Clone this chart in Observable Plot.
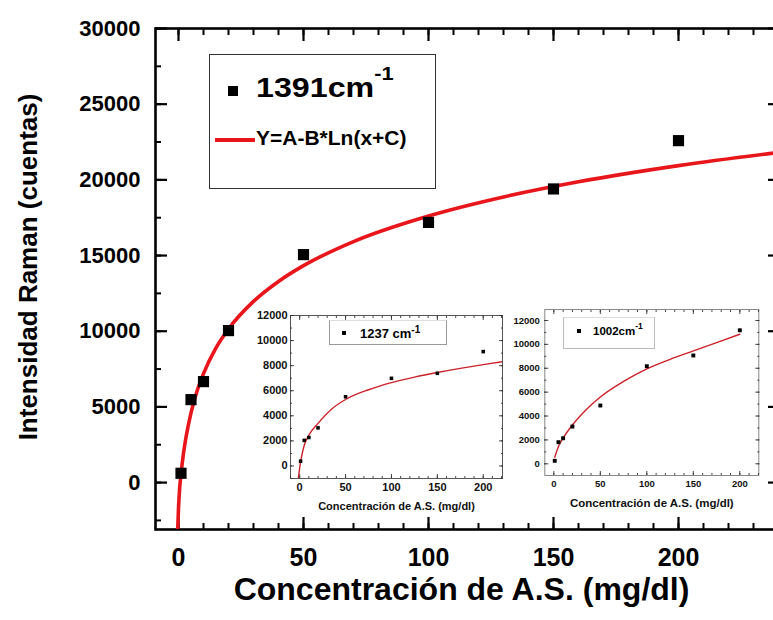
<!DOCTYPE html>
<html><head><meta charset="utf-8">
<script src="https://cdn.jsdelivr.net/npm/d3@7"></script>
<script src="https://cdn.jsdelivr.net/npm/@observablehq/plot@0.6"></script>
<style>
html,body{margin:0;padding:0;background:#fff;overflow:hidden;}
#wrap{position:relative;width:773px;height:620px;overflow:hidden;background:#fff;
  font-family:"Liberation Sans",Arial,Helvetica,sans-serif;font-weight:bold;color:#000;}
#wrap svg{position:absolute;}
.abs{position:absolute;white-space:nowrap;line-height:1;}
.sup{position:relative;}
</style></head>
<body><div id="wrap"></div>
<script>
// ---------- main chart data (1391 cm-1) ----------
const mainX = [1, 5, 10, 20, 50, 100, 150, 200];
const mainY = [615, 5480, 6670, 10040, 15060, 17190, 19400, 22590];
// fitted curve Y=A-B*Ln(x+C)
const mainFitX = [-0.3, 0, 0.5, 1, 2, 3, 5, 7.5, 10, 15, 20, 30, 40, 50, 70, 100, 130, 160, 200, 241];
const mainFitY = [-3000, -1700, -300, 560, 1930, 2990, 4610, 6080, 7200, 8900, 10150, 11970, 13290, 14330, 15920, 17610, 18870, 19870, 20940, 21830];
const mainXTicks = [0, 50, 100, 150, 200];
const mainYTicks = [0, 5000, 10000, 15000, 20000, 25000, 30000];

// ---------- inset 1 data (1237 cm-1) ----------
const in1X = [1, 5, 10, 20, 50, 100, 150, 200];
const in1Y = [380, 2040, 2270, 3040, 5520, 6990, 7390, 9120];
const in1FitX = [-1.5, -0.5, 0, 1, 2, 5, 10, 20, 35, 50, 75, 100, 125, 150, 175, 200, 221];
const in1FitY = [-1000, -450, -150, 330, 730, 1650, 2450, 3400, 4550, 5300, 6080, 6650, 7080, 7450, 7780, 8080, 8320];

// ---------- inset 2 data (1002 cm-1) ----------
const in2X = [1, 5, 10, 20, 50, 100, 150, 200];
const in2Y = [250, 1810, 2140, 3120, 4880, 8170, 9070, 11180];
const in2FitX = [1, 5, 10, 20, 35, 50, 75, 100, 125, 150, 175, 200];
const in2FitY = [550, 1450, 2150, 3250, 4550, 5600, 6900, 7950, 8750, 9450, 10150, 10850];

const insetXTicks = [0, 50, 100, 150, 200];
const insetYTicks = [0, 2000, 4000, 6000, 8000, 10000, 12000];

const xTitle = "Concentración de A.S. (mg/dl)";
const yTitle = "Intensidad Raman (cuentas)";

const FONT = '"Liberation Sans", Arial, Helvetica, sans-serif';
const wrap = document.getElementById("wrap");
const zip = (xs, ys) => xs.map((x, i) => ({x, y: ys[i]}));
const inDom = (arr, [a, b]) => arr.filter(v => v >= a && v <= b);

// ---------- main plot ----------
const mxDom = [-9.2, 240.4], myDom = [-3100, 30000];
const mxMinor = inDom(d3.range(-10, 250, 10), mxDom);
const myMinor = inDom(d3.range(-2500, 30001, 2500), myDom);
const mxMajor = inDom(d3.range(0, 251, 50), mxDom);

const tk = {stroke: "#000", fill: "none", label: null};
const main = Plot.plot({
  width: 773, height: 620,
  marginLeft: 155, marginRight: -6, marginTop: 28, marginBottom: 91,
  x: {domain: mxDom, label: null},
  y: {domain: myDom, label: null},
  style: {fontFamily: FONT, background: "#fff", color: "#000"},
  marks: [
    Plot.axisX(mxMinor, {...tk, anchor: "bottom", tickSize: -6, strokeWidth: 2}),
    Plot.axisX(mxMinor, {...tk, anchor: "top", tickSize: -6, strokeWidth: 2}),
    Plot.axisX(mxMajor, {...tk, anchor: "bottom", tickSize: -12, strokeWidth: 2.2}),
    Plot.axisX(mxMajor, {...tk, anchor: "top", tickSize: -12, strokeWidth: 2.2}),
    Plot.axisY(myMinor, {...tk, anchor: "left", tickSize: -6, strokeWidth: 2}),
    Plot.axisY(myMinor, {...tk, anchor: "right", tickSize: -6, strokeWidth: 2}),
    Plot.axisY(mainYTicks, {...tk, anchor: "left", tickSize: -12, strokeWidth: 2.2}),
    Plot.axisY(mainYTicks, {...tk, anchor: "right", tickSize: -12, strokeWidth: 2.2}),
    Plot.axisX(mainXTicks, {anchor: "bottom", tickSize: 0, tickPadding: 19, fontSize: 25, fontWeight: "bold", tickFormat: "d", label: null, fill: "#000"}),
    Plot.axisY(mainYTicks, {anchor: "left", tickSize: 0, tickPadding: 15, fontSize: 22, fontWeight: "bold", tickFormat: "d", label: null, fill: "#000"}),
    Plot.frame({stroke: "#000", strokeWidth: 2.6}),
    Plot.line(zip(mainFitX, mainFitY), {x: "x", y: "y", stroke: "#e8161b", strokeWidth: 3.6, curve: "monotone-x", clip: true}),
    Plot.dot(zip(mainX, mainY), {x: "x", y: "y", symbol: "square", r: 6.3, fill: "#000", stroke: null}),
    Plot.text([xTitle], {text: d => d, frameAnchor: "bottom", lineAnchor: "middle", textAnchor: "middle", dy: 60, dx: -6, fontSize: 32, fontWeight: "bold", fill: "#000"}),
    Plot.text([yTitle], {text: d => d, frameAnchor: "left", lineAnchor: "middle", textAnchor: "middle", rotate: -90, dx: -127, dy: -12, fontSize: 26, fontWeight: "bold", fill: "#000"})
  ]
});
main.style.left = "0px"; main.style.top = "0px";
wrap.appendChild(main);

// ---------- insets ----------
function inset(o) {
  const xMinor = inDom(d3.range(-10, 230, 10), o.xDom);
  const yMinor = inDom(d3.range(-1000, 13001, 1000), o.yDom);
  const t = {stroke: "#333", fill: "none", label: null, strokeWidth: 0.9};
  const svg = Plot.plot({
    width: o.w, height: o.h,
    marginLeft: o.ml, marginRight: o.mr, marginTop: o.mt, marginBottom: o.mb,
    x: {domain: o.xDom, label: null},
    y: {domain: o.yDom, label: null},
    style: {fontFamily: FONT, background: "transparent", color: "#000"},
    marks: [
      Plot.frame({stroke: o.frame, strokeWidth: 1}),
      Plot.axisX(xMinor, {...t, anchor: "bottom", tickSize: -2}),
      Plot.axisX(xMinor, {...t, anchor: "top", tickSize: -2}),
      Plot.axisX(insetXTicks, {...t, anchor: "bottom", tickSize: -4}),
      Plot.axisX(insetXTicks, {...t, anchor: "top", tickSize: -4}),
      Plot.axisY(yMinor, {...t, anchor: "left", tickSize: -2}),
      Plot.axisY(yMinor, {...t, anchor: "right", tickSize: -2}),
      Plot.axisY(insetYTicks, {...t, anchor: "left", tickSize: -4}),
      Plot.axisY(insetYTicks, {...t, anchor: "right", tickSize: -4}),
      Plot.axisX(insetXTicks, {anchor: "bottom", tickSize: 0, tickPadding: o.xPad, fontSize: o.fs, fontWeight: "bold", tickFormat: "d", label: null, fill: "#111"}),
      Plot.axisY(insetYTicks, {anchor: "left", tickSize: 0, tickPadding: o.yPad, fontSize: o.fs, fontWeight: "bold", tickFormat: "d", label: null, fill: "#111"}),
      Plot.line(zip(o.fitX, o.fitY), {x: "x", y: "y", stroke: "#cc2229", strokeWidth: 1.4, curve: "monotone-x", clip: true}),
      Plot.dot(zip(o.px, o.py), {x: "x", y: "y", symbol: "square", r: o.r, fill: "#000", stroke: null}),
      Plot.text([xTitle], {text: d => d, frameAnchor: "bottom", lineAnchor: "middle", textAnchor: "middle", dy: 28, fontSize: o.tfs, fontWeight: "bold", fill: "#111"})
    ]
  });
  svg.style.left = o.left + "px"; svg.style.top = o.top + "px";
  wrap.appendChild(svg);
}

inset({left: 250, top: 305, w: 256, h: 210, ml: 40, mr: 4, mt: 10, mb: 37,
  xDom: [-10, 221], yDom: [-1000, 12000], frame: "#555",
  px: in1X, py: in1Y, fitX: in1FitX, fitY: in1FitY, r: 2, fs: 11, tfs: 11, xPad: 5, yPad: 3});
inset({left: 505, top: 298, w: 260, h: 212, ml: 39.3, mr: 6.7, mt: 11, mb: 35,
  xDom: [-9.7, 220.4], yDom: [-980, 12920], frame: "#888",
  px: in2X, py: in2Y, fitX: in2FitX, fitY: in2FitY, r: 2.2, fs: 9.5, tfs: 11.5, xPad: 5, yPad: 5});

// ---------- legends ----------
function el(html, css) {
  const d = document.createElement("div");
  d.className = "abs";
  d.innerHTML = html;
  Object.assign(d.style, css);
  wrap.appendChild(d);
  return d;
}
// main legend
el("", {left: "209px", top: "54px", width: "227px", height: "135px", border: "1px solid #333", boxSizing: "border-box"});
el("", {left: "228px", top: "86px", width: "10px", height: "10px", background: "#000"});
el('1391cm<span class="sup" style="font-size:19px;top:-17px">-1</span>', {left: "256px", top: "74px", fontSize: "28px", transform: "scaleX(1.15)", transformOrigin: "left center"});
el("", {left: "215px", top: "138px", width: "40px", height: "3.5px", background: "#e8161b"});
el("Y=A-B*Ln(x+C)", {left: "256px", top: "127px", fontSize: "21px"});
// inset 1 legend
el("", {left: "329px", top: "320px", width: "118px", height: "25px", border: "1px solid #999", borderTopColor: "#ddd", boxSizing: "border-box"});
el("", {left: "342px", top: "331px", width: "4px", height: "4px", background: "#000"});
el('1237 cm<span class="sup" style="font-size:10px;top:-5px">-1</span>', {left: "360px", top: "326.5px", fontSize: "13px"});
// inset 2 legend
el("", {left: "563px", top: "317px", width: "92px", height: "32px", border: "1px solid #bbb", borderTopColor: "#ddd", boxSizing: "border-box"});
el("", {left: "577px", top: "329px", width: "4px", height: "4px", background: "#000"});
el('1002cm<span class="sup" style="font-size:8.5px;top:-6px">-1</span>', {left: "593px", top: "325.5px", fontSize: "11.5px"});
</script>
</body></html>
